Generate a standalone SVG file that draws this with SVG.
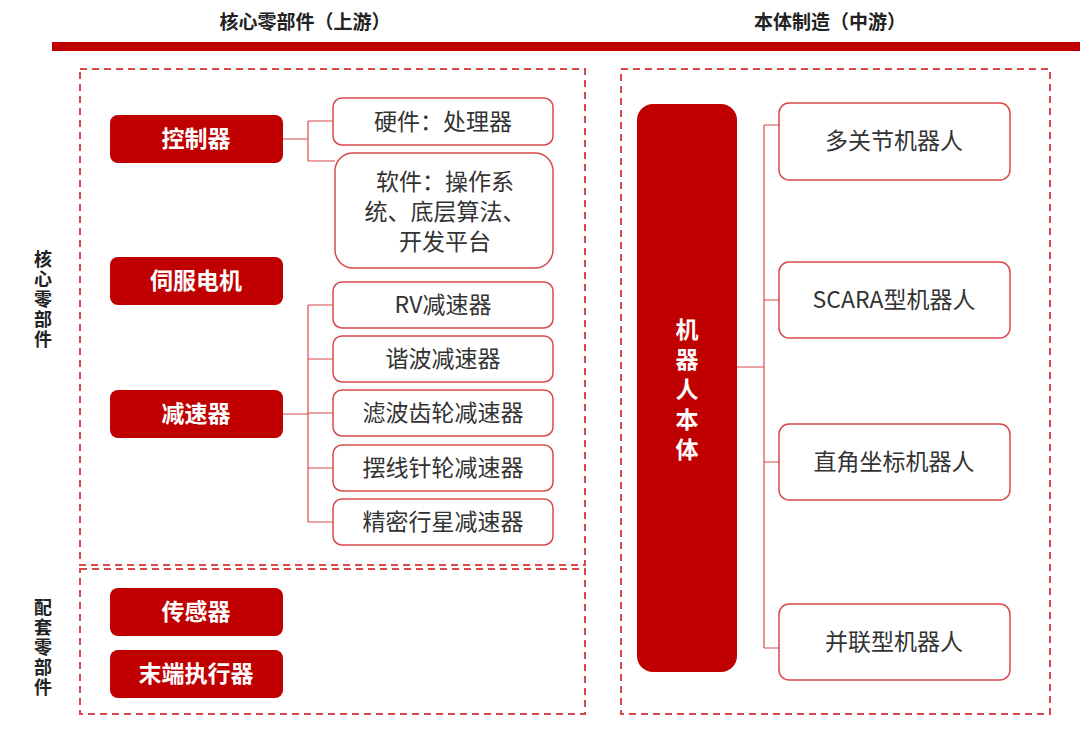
<svg xmlns="http://www.w3.org/2000/svg" width="1080" height="730" viewBox="0 0 1080 730">
<style>
text{font-family:"Noto Sans CJK SC","Noto Sans",sans-serif}
.hd{font-size:19px;font-weight:bold;fill:#222;text-anchor:middle}
.red{fill:#c00000}
.rt{fill:#fff;font-size:23px;font-weight:bold;text-anchor:middle}
.wb{fill:#fff;stroke:#d9484b;stroke-width:1.5}
.wt{fill:#333;font-size:23px;text-anchor:middle}
.dash{fill:none;stroke:#d9484b;stroke-width:2;stroke-dasharray:7,5}
.ln{fill:none;stroke:#d9484b;stroke-width:1.2}
.side{font-size:18px;font-weight:bold;fill:#222;text-anchor:middle;writing-mode:vertical-rl;letter-spacing:2px}
</style>
<rect width="1080" height="730" fill="#fff"/>
<g id="headers">
<text class="hd" x="305" y="29">核心零部件（上游）</text>
<text class="hd" x="830" y="29">本体制造（中游）</text>
<rect x="52" y="42" width="1028" height="9" class="red"/>
</g>
<g id="frames">
<rect class="dash" x="80" y="69" width="505" height="496"/>
<rect class="dash" x="80" y="569" width="505" height="145"/>
<rect class="dash" x="621" y="69" width="429" height="645"/>
</g>
<g id="side-labels">
<text class="side" x="43" y="300">核心零部件</text>
<text class="side" x="43" y="648">配套零部件</text>
</g>
<g id="connectors">
<path class="ln" d="M283 139H308M308 121V161M308 121H333M308 161H335"/>
<path class="ln" d="M283 414H308M308 305V522M308 305H333M308 359H333M308 413H333M308 468H333M308 522H333"/>
<path class="ln" d="M737 367H764M764 125V648M764 125H779M764 300H779M764 462H779M764 648H779"/>
</g>
<g id="n-kzq"><rect class="red" x="110" y="115" width="173" height="48" rx="8"/><text class="rt" x="196" y="147">控制器</text></g>
<g id="n-sfdj"><rect class="red" x="110" y="257" width="173" height="48" rx="8"/><text class="rt" x="196" y="289">伺服电机</text></g>
<g id="n-jsq"><rect class="red" x="110" y="390" width="173" height="48" rx="8"/><text class="rt" x="196" y="422">减速器</text></g>
<g id="n-cgq"><rect class="red" x="110" y="588" width="173" height="48" rx="8"/><text class="rt" x="196" y="620">传感器</text></g>
<g id="n-mdzxq"><rect class="red" x="110" y="650" width="173" height="48" rx="8"/><text class="rt" x="196" y="682">末端执行器</text></g>
<g id="n-yj"><rect class="wb" x="333" y="98" width="220" height="47" rx="9"/><text class="wt" x="443" y="130">硬件：处理器</text></g>
<g id="n-rj"><rect class="wb" x="335" y="153" width="218" height="115" rx="18"/><text class="wt"><tspan x="445" y="190">软件：操作系</tspan><tspan x="445" y="220">统、底层算法、</tspan><tspan x="445" y="250">开发平台</tspan></text></g>
<g id="n-rv"><rect class="wb" x="333" y="282" width="220" height="46" rx="9"/><text class="wt" x="443" y="313">RV减速器</text></g>
<g id="n-xb"><rect class="wb" x="333" y="336" width="220" height="46" rx="9"/><text class="wt" x="443" y="367">谐波减速器</text></g>
<g id="n-lb"><rect class="wb" x="333" y="390" width="220" height="46" rx="9"/><text class="wt" x="443" y="421">滤波齿轮减速器</text></g>
<g id="n-bx"><rect class="wb" x="333" y="445" width="220" height="46" rx="9"/><text class="wt" x="443" y="476">摆线针轮减速器</text></g>
<g id="n-jm"><rect class="wb" x="333" y="499" width="220" height="46" rx="9"/><text class="wt" x="443" y="530">精密行星减速器</text></g>
<g id="n-body"><rect class="red" x="637" y="104" width="100" height="568" rx="16"/><text class="rt"><tspan x="687" y="338">机</tspan><tspan x="687" y="368">器</tspan><tspan x="687" y="398">人</tspan><tspan x="687" y="428">本</tspan><tspan x="687" y="458">体</tspan></text></g>
<g id="n-dgj"><rect class="wb" x="779" y="103" width="231" height="77" rx="10"/><text class="wt" x="894" y="149">多关节机器人</text></g>
<g id="n-scara"><rect class="wb" x="779" y="262" width="231" height="76" rx="10"/><text class="wt" x="894" y="308">SCARA型机器人</text></g>
<g id="n-zj"><rect class="wb" x="779" y="424" width="231" height="76" rx="10"/><text class="wt" x="894" y="470">直角坐标机器人</text></g>
<g id="n-bl"><rect class="wb" x="779" y="604" width="231" height="76" rx="10"/><text class="wt" x="894" y="650">并联型机器人</text></g>
</svg>
